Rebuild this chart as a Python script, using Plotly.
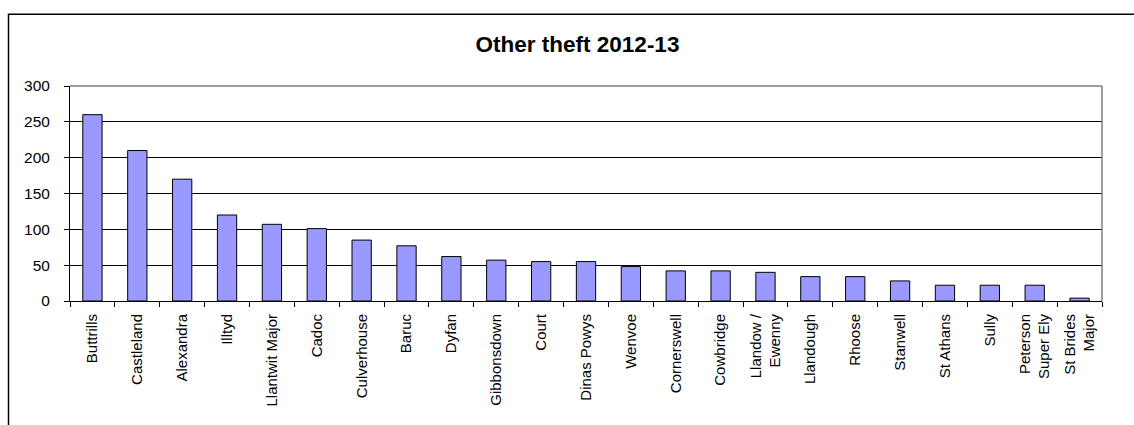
import plotly.graph_objects as go

# Other theft counts by ward, 2012-13
wards = [
    "Buttrills", "Castleland", "Alexandra", "Illtyd", "Llantwit Major",
    "Cadoc", "Culverhouse", "Baruc", "Dyfan", "Gibbonsdown", "Court",
    "Dinas Powys", "Wenvoe", "Cornerswell", "Cowbridge", "Llandow /<br>Ewenny",
    "Llandough", "Rhoose", "Stanwell", "St Athans", "Sully",
    "Peterson<br>Super Ely", "St Brides<br>Major",
]
offences = [260, 210, 170, 120, 107, 101, 85, 77, 62, 57, 55, 55, 48,
            42, 42, 40, 34, 34, 28, 22, 22, 22, 4]
y_ticks = [0, 50, 100, 150, 200, 250, 300]

W, H = 1134, 425
L, R, T, B = 70, 1102, 85.5, 301.0   # plot area in pixels

def px_x(x):
    return (x - L) / (R - L)

def px_y(y):
    return (B - y) / (B - T)

FONT = "Liberation Sans, Arial, sans-serif"

fig = go.Figure(
    go.Bar(
        x=wards,
        y=offences,
        marker=dict(color="#9999FF", line=dict(color="#000000", width=1)),
        hoverinfo="x+y",
    )
)

fig.update_layout(
    width=W,
    height=H,
    margin=dict(l=L, r=W - R, t=T, b=H - B),
    paper_bgcolor="#FFFFFF",
    plot_bgcolor="#FFFFFF",
    bargap=0.57,
    showlegend=False,
    font=dict(family=FONT, size=15, color="#000000"),
    title=dict(
        text="<b>Other theft 2012-13</b>",
        font=dict(family=FONT, size=22.5, color="#000000"),
        x=px_x(577.5),
        xref="paper",
        xanchor="center",
        y=1 - 44 / H,
        yref="container",
        yanchor="middle",
    ),
    xaxis=dict(
        type="category",
        tickangle=-90,
        ticks="outside",
        tickson="boundaries",
        ticklen=5,
        tickcolor="#000000",
        tickwidth=1,
        showline=True,
        linecolor="#000000",
        linewidth=1,
        showgrid=False,
        tickfont=dict(family=FONT, size=15, color="#000000"),
        ticklabelstandoff=6,
    ),
    yaxis=dict(
        range=[0, 300],
        tickvals=y_ticks,
        ticktext=[str(v) for v in y_ticks],
        ticks="outside",
        ticklen=5,
        tickcolor="#000000",
        showline=True,
        linecolor="#000000",
        linewidth=1,
        showgrid=True,
        gridcolor="#000000",
        gridwidth=1,
        zeroline=False,
        tickfont=dict(family=FONT, size=15.5, color="#000000"),
        ticklabelstandoff=11,
    ),
    shapes=[
        # grey plot-area border on top and right
        dict(type="line", xref="paper", yref="paper", x0=0, x1=1, y0=1, y1=1,
             line=dict(color="#808080", width=1.5), layer="above"),
        dict(type="line", xref="paper", yref="paper", x0=1, x1=1, y0=0, y1=1,
             line=dict(color="#808080", width=1.5), layer="above"),
        # chart frame
        dict(type="rect", xref="paper", yref="paper",
             x0=px_x(8.5), x1=px_x(1150), y0=px_y(440), y1=px_y(13.5),
             line=dict(color="#000000", width=1.5), layer="above"),
    ],
)

fig.write_html("out.html")
